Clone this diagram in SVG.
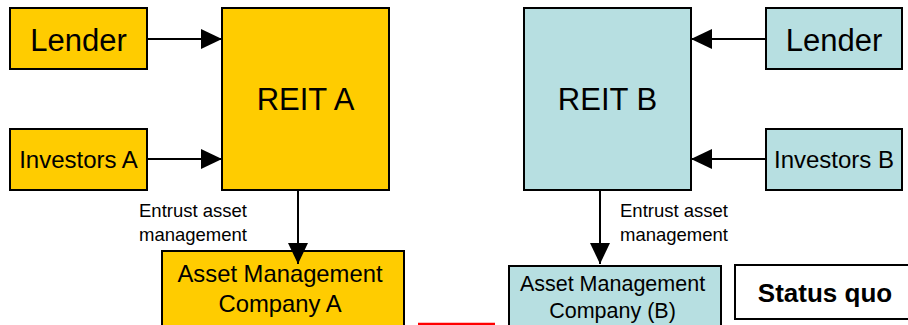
<svg xmlns="http://www.w3.org/2000/svg" width="908" height="325" viewBox="0 0 908 325">
  <style>
    .box { stroke: #000; stroke-width: 2; }
    .yel { fill: #FFCC00; }
    .blu { fill: #B7DFE1; }
    .wht { fill: #FFFFFF; }
    text { font-family: "Liberation Sans", Arial, sans-serif; fill: #000; text-anchor: middle; }
    .conn { stroke: #000; stroke-width: 2; fill: none; marker-end: url(#head); }
    .lbl { font-size: 18.5px; text-anchor: start; }
  </style>
  <defs>
    <marker id="head" viewBox="0 0 21 20" refX="21" refY="10" markerWidth="21" markerHeight="20" markerUnits="userSpaceOnUse" orient="auto">
      <path d="M0,0 L21,10 L0,20 Z" fill="#000"/>
    </marker>
  </defs>

  <!-- left structure -->
  <g id="lender-a">
    <rect class="box yel" x="10" y="8" width="137" height="61"/>
    <text x="78.5" y="51" font-size="31">Lender</text>
  </g>
  <g id="investors-a">
    <rect class="box yel" x="10" y="129" width="137" height="61"/>
    <text x="78.5" y="168" font-size="24">Investors A</text>
  </g>
  <g id="reit-a">
    <rect class="box yel" x="222" y="8" width="167" height="182"/>
    <text x="305.5" y="110" font-size="31">REIT A</text>
  </g>
  <g id="amc-a">
    <rect class="box yel" x="162" y="251" width="242" height="90"/>
    <text x="280" y="282" font-size="23.8">Asset Management</text>
    <text x="280" y="312" font-size="23.8">Company A</text>
  </g>

  <!-- right structure -->
  <g id="reit-b">
    <rect class="box blu" x="524" y="8" width="167" height="182"/>
    <text x="607.5" y="110" font-size="31">REIT B</text>
  </g>
  <g id="lender-b">
    <rect class="box blu" x="766" y="8" width="136" height="61"/>
    <text x="834" y="51" font-size="31">Lender</text>
  </g>
  <g id="investors-b">
    <rect class="box blu" x="766" y="129" width="136" height="61"/>
    <text x="834" y="168" font-size="24">Investors B</text>
  </g>
  <g id="amc-b">
    <rect class="box blu" x="509" y="266" width="212" height="75"/>
    <text x="612.5" y="291" font-size="21.5">Asset Management</text>
    <text x="612.5" y="318" font-size="21.5">Company (B)</text>
  </g>
  <g id="status-quo">
    <rect class="box wht" x="735" y="265" width="180" height="54"/>
    <text x="825" y="302" font-size="26" font-weight="bold">Status quo</text>
  </g>

  <!-- red outline edge between the two companies -->
  <line x1="418" y1="324" x2="495" y2="324" stroke="#FF0000" stroke-width="2.5"/>

  <g id="connectors">
    <line class="conn" x1="147" y1="39" x2="222" y2="39"/>
    <line class="conn" x1="147" y1="159" x2="222" y2="159"/>
    <line class="conn" x1="766" y1="39" x2="691" y2="39"/>
    <line class="conn" x1="766" y1="159" x2="691" y2="159"/>
    <line class="conn" x1="298" y1="190" x2="298" y2="264"/>
    <line class="conn" x1="600" y1="190" x2="600" y2="264"/>
    <text class="lbl" x="139" y="217">Entrust asset</text>
    <text class="lbl" x="139" y="241">management</text>
    <text class="lbl" x="620" y="217">Entrust asset</text>
    <text class="lbl" x="620" y="241">management</text>
  </g>
</svg>
